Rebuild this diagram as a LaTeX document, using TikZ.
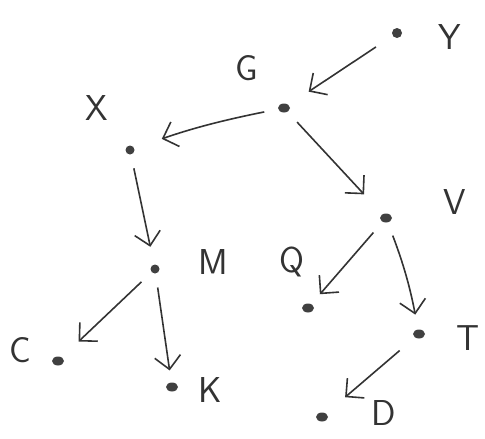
\documentclass[tikz,border=0pt]{standalone}
\usepackage{tikz}
\usetikzlibrary{arrows.meta,shapes.geometric}

\tikzset{
    dot/.style={ellipse,fill=black!75,inner sep=0pt,minimum width=12pt,minimum height=9pt},
    letter/.style={font=\sffamily\fontsize{36}{40}\selectfont,text=black!80},
    edge/.style={-{Straight Barb[length=13pt,width=26pt,line width=1.6pt]},
        line width=1.6pt,draw=black!80,shorten <=14pt,shorten >=18pt}
}

\begin{document}
\begin{tikzpicture}[x=1pt,y=-1pt]
\useasboundingbox (0,0) rectangle (485,439);

% Vertices
\node[dot,circle,minimum size=10pt] (y) at (397,33) {};
\node[dot] (g) at (284,108) {};
\node[dot,circle,minimum size=9pt] (x) at (130,150) {};
\node[dot] (v) at (386,218) {};
\node[dot,circle,minimum size=9pt] (m) at (155,269) {};
\node[dot] (q) at (308,308) {};
\node[dot] (c) at (58,361) {};
\node[dot] (k) at (172,387) {};
\node[dot] (t) at (419,334) {};
\node[dot] (d) at (322,417) {};

% Letters
\node[letter] (ly) at (450,37) {Y};
\node[letter] (lg) at (247,68) {G};
\node[letter] (lx) at (97,108) {X};
\node[letter] (lv) at (455,202) {V};
\node[letter] (lm) at (213,262) {M};
\node[letter] (lq) at (292,262) {Q};
\node[letter] (lt) at (468,338) {T};
\node[letter] (lc) at (20,350) {C};
\node[letter] (lk) at (210,390) {K};
\node[letter] (ld) at (384,413) {D};

% Arrows
\draw[edge,shorten <=20pt,shorten >=24pt] (y) -- (g);
\draw[edge,shorten >=29pt] (g) to[bend right=4] (x);
\draw[edge,shorten >=27pt] (g) -- (v);
\draw[edge,shorten >=18pt] (x) -- (m);
\draw[edge,shorten >=23pt] (m) -- (c);
\draw[edge,shorten >=12pt] (m) -- (k);
\draw[edge,shorten >=13pt] (v) -- (q);
\draw[edge,shorten >=15pt] (v) to[bend left=5] (t);
\draw[edge,shorten <=20pt,shorten >=25pt] (t) -- (d);

\end{tikzpicture}
\end{document}
